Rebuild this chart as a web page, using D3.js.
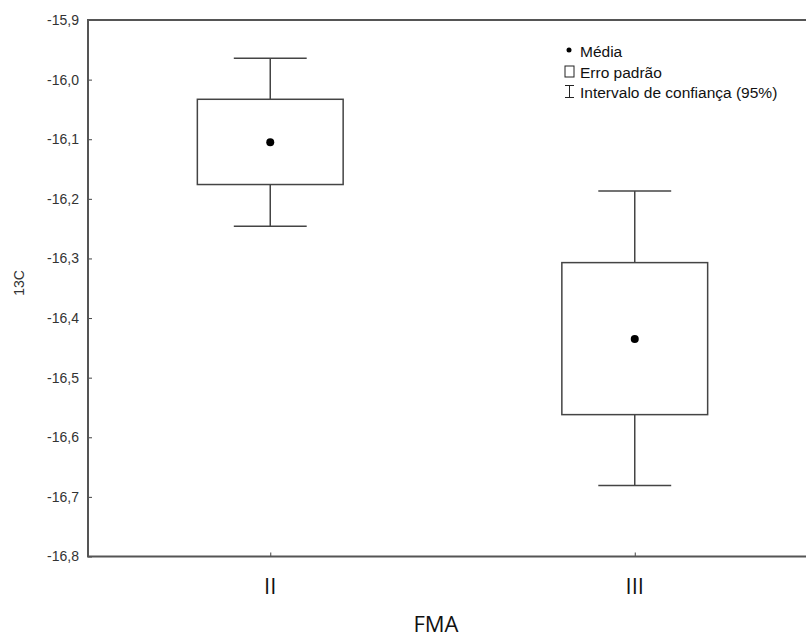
<!doctype html>
<html>
  <head>
    <meta charset="utf-8">
    <style>
      body { margin: 0; background: #fff; }
      .tick text { font: 14px "Liberation Sans", Arial, sans-serif; fill: #333; }
      .frame { fill: none; stroke: #555; stroke-width: 2px; }
      .box { fill: #fff; stroke: #444; stroke-width: 1.5px; }
      .whisker { stroke: #444; stroke-width: 1.5px; }
      .legend text { font: 15.5px "Liberation Sans", Arial, sans-serif; fill: #111; }
    </style>
    <script src="https://cdn.jsdelivr.net/npm/d3@7"></script>
  </head>
  <body>
  <script>
    // values
    var groups = ["II", "III"];
    var means = [-16.105, -16.435];
    var seLow = [-16.176, -16.562];
    var seHigh = [-16.033, -16.307];
    var ciLow = [-16.246, -16.681];
    var ciHigh = [-15.964, -16.187];
    var yTicks = [-15.9, -16.0, -16.1, -16.2, -16.3, -16.4, -16.5, -16.6, -16.7, -16.8];
    var legendLabels = ["Média", "Erro padrão", "Intervalo de confiança (95%)"];

    var W = 806, H = 639;
    var margin = {top: 20, right: -11, bottom: 82, left: 88};

    var svg = d3.select("body").append("svg")
        .attr("width", W)
        .attr("height", H);

    // frame runs past the right edge, like the original
    var x = d3.scalePoint()
        .domain(groups)
        .range([margin.left, W - margin.right])
        .padding(0.5);

    var y = d3.scaleLinear()
        .domain([-16.8, -15.9])
        .range([H - margin.bottom - 0.5, margin.top]);

    var boxW = x.step() * 0.4;

    // y axis, ticks pointing inward
    svg.append("g")
        .attr("transform", "translate(" + margin.left + ",0)")
        .call(d3.axisRight(y).tickValues(yTicks).tickSize(4)
          .tickFormat(function(d) { return d3.format(".1f")(d).replace(".", ",").replace("\u2212", "-"); }))
        .call(function(g) {
          g.select(".domain").remove();
          g.selectAll(".tick line").attr("stroke", "#444");
          g.selectAll(".tick text").attr("x", -9).attr("text-anchor", "end");
        });

    // x axis ticks pointing up
    svg.append("g")
        .attr("transform", "translate(0," + y(-16.8) + ")")
        .call(d3.axisTop(x).tickSize(4).tickFormat(""))
        .call(function(g) {
          g.select(".domain").remove();
          g.selectAll(".tick line").attr("stroke", "#444");
        });

    svg.selectAll(".xlab")
        .data(groups)
        .enter().append("text")
        .attr("x", function(d) { return x(d); })
        .attr("y", 594)
        .attr("text-anchor", "middle")
        .style("font", "22px 'Open Sans', sans-serif")
        .style("fill", "#111")
        .text(function(d) { return d; });

    svg.append("rect")
        .attr("class", "frame")
        .attr("x", margin.left)
        .attr("y", y(-15.9))
        .attr("width", W - margin.right - margin.left)
        .attr("height", y(-16.8) - y(-15.9));

    // axis titles
    svg.append("text")
        .attr("x", 436)
        .attr("y", 632)
        .attr("text-anchor", "middle")
        .style("font", "22px 'Open Sans', sans-serif")
        .style("fill", "#111")
        .text("FMA");

    svg.append("text")
        .attr("transform", "translate(24,283) rotate(-90)")
        .attr("text-anchor", "middle")
        .style("font", "14px 'Liberation Sans', Arial, sans-serif")
        .style("fill", "#333")
        .text("13C");

    // whiskers and boxes
    var capHalf = boxW * 0.25;
    groups.forEach(function(g, i) {
      var c = x(g);
      svg.append("line").attr("class", "whisker")
        .attr("x1", c).attr("x2", c).attr("y1", y(ciHigh[i])).attr("y2", y(ciLow[i]));
      [ciHigh[i], ciLow[i]].forEach(function(v) {
        svg.append("line").attr("class", "whisker")
          .attr("x1", c - capHalf).attr("x2", c + capHalf)
          .attr("y1", y(v)).attr("y2", y(v));
      });
      svg.append("rect").attr("class", "box")
        .attr("x", c - boxW / 2).attr("width", boxW)
        .attr("y", y(seHigh[i])).attr("height", y(seLow[i]) - y(seHigh[i]));
      svg.append("circle")
        .attr("cx", c).attr("cy", y(means[i])).attr("r", 4)
        .attr("fill", "#000");
    });

    // legend
    var lg = svg.append("g").attr("class", "legend").attr("transform", "translate(569,0)");
    lg.append("circle").attr("cx", 0).attr("cy", 50).attr("r", 2.5).attr("fill", "#000");
    lg.append("rect").attr("x", -4).attr("y", 66).attr("width", 9).attr("height", 11)
      .attr("fill", "none").attr("stroke", "#222").attr("stroke-width", 1);
    lg.append("path").attr("d", "M-4,85.5H5M0.5,85.5V97.5M-4,97.5H5")
      .attr("fill", "none").attr("stroke", "#222").attr("stroke-width", 1);
    lg.selectAll("text")
      .data(legendLabels)
      .enter().append("text")
      .attr("x", 11)
      .attr("y", function(d, i) { return 57 + i * 20.5; })
      .text(function(d) { return d; });
  </script>
  </body>
</html>
